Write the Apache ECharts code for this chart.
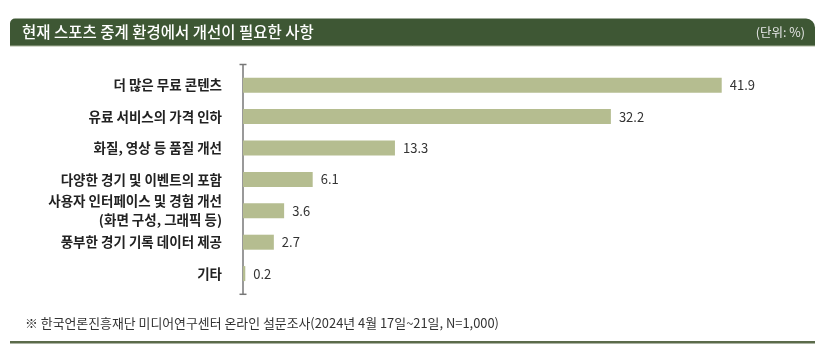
<!DOCTYPE html>
<html><head><meta charset="utf-8">
<script src="https://cdn.jsdelivr.net/npm/echarts@6/dist/echarts.min.js"></script>
<style>html,body{margin:0;padding:0;background:#fff}#c{width:821px;height:356px}</style>
</head><body><div id="c"></div>
<script>
const categories = ['더 많은 무료 콘텐츠','유료 서비스의 가격 인하','화질, 영상 등 품질 개선','다양한 경기 및 이벤트의 포함','사용자 인터페이스 및 경험 개선\n(화면 구성, 그래픽 등)','풍부한 경기 기록 데이터 제공','기타'];
const values = [41.9, 32.2, 13.3, 6.1, 3.6, 2.7, 0.2];
const titleText = '현재 스포츠 중계 환경에서 개선이 필요한 사항';
const unitText = '(단위: %)';
const sourceText = '※ 한국언론진흥재단 미디어연구센터 온라인 설문조사(2024년 4월 17일~21일, N=1,000)';

const FONT = '"Noto Sans CJK KR", "Noto Sans", sans-serif';
const GL = 243, GT = 69.5, GH = 219.8, XMAX = 50, PX = 11.425;
const GW = XMAX * PX;
const chart = echarts.init(document.getElementById('c'), null, {renderer: 'canvas'});
chart.setOption({
  animation: false,
  grid: {left: GL, top: GT, width: GW, height: GH, containLabel: false},
  xAxis: {type: 'value', min: 0, max: XMAX, show: false},
  yAxis: {type: 'category', data: categories, inverse: true,
    axisLine: {show: false}, axisTick: {show: false},
    axisLabel: {margin: 21, fontFamily: FONT, fontSize: 13.5, fontWeight: 'bold', color: '#222', lineHeight: 19, align: 'right'}},
  series: [{type: 'bar', data: values, barWidth: 15,
    itemStyle: {color: '#b5bd90'},
    label: {show: true, position: 'right', distance: 8, fontFamily: FONT, fontSize: 13, color: '#333'}}],
  graphic: [
    {type: 'rect', shape: {x: 10, y: 18.5, width: 805, height: 27.5, r: [5, 9, 0, 0]}, style: {fill: '#3e5734'}},
    {type: 'line', shape: {x1: 10, y1: 46, x2: 815, y2: 46}, style: {stroke: '#a9b39a', lineWidth: 1}},
    {type: 'text', x: 22, y: 32.5, style: {text: titleText, fill: '#fff', font: '500 15.5px ' + FONT, verticalAlign: 'middle'}},
    {type: 'text', x: 805, y: 32.5, style: {text: unitText, fill: '#e6e6e6', font: '12.5px ' + FONT, align: 'right', verticalAlign: 'middle'}},
    {type: 'line', shape: {x1: GL, y1: GT - 5, x2: GL, y2: GT + GH + 5}, style: {stroke: '#777', lineWidth: 1.5}},
    {type: 'line', shape: {x1: GL - 3.5, y1: GT - 5, x2: GL + 3.5, y2: GT - 5}, style: {stroke: '#777', lineWidth: 1.5}},
    {type: 'line', shape: {x1: GL - 3.5, y1: GT + GH + 5, x2: GL + 3.5, y2: GT + GH + 5}, style: {stroke: '#777', lineWidth: 1.5}},
    {type: 'text', x: 25, y: 323, style: {text: sourceText, fill: '#333', font: '12.9px ' + FONT, verticalAlign: 'middle'}},
    {type: 'rect', shape: {x: 10, y: 341, width: 805, height: 2.5}, style: {fill: '#5b6b4b'}}
  ]
});
</script></body></html>
